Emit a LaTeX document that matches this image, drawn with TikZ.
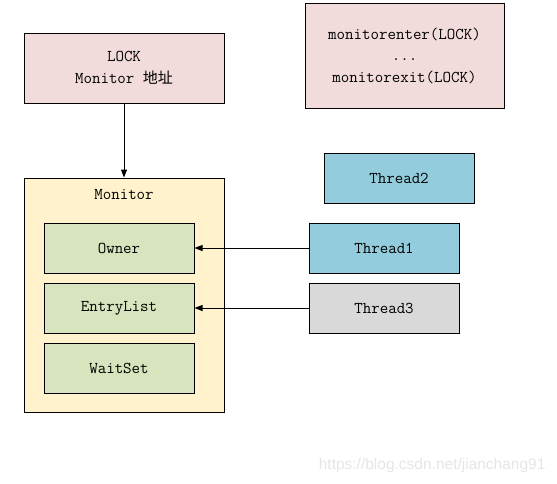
\documentclass[tikz,border=0pt]{standalone}
\usepackage{fontspec}
\setmonofont{Latin Modern Mono}
\newfontfamily\cjk{Noto Sans CJK SC}
\newfontfamily\wmfont{Liberation Sans}
\usetikzlibrary{arrows.meta}
\definecolor{pinkbox}{HTML}{F2DCDB}
\definecolor{yellowbox}{HTML}{FFF2CC}
\definecolor{greenbox}{HTML}{D7E4BD}
\definecolor{bluebox}{HTML}{93CDDD}
\definecolor{graybox}{HTML}{D9D9D9}
\tikzset{
  box/.style={draw=black, line width=1pt, minimum width=#1, inner sep=0pt, font=\ttfamily\fontsize{16.5}{21.5}\selectfont, align=center},
  box/.default=150pt,
  conn/.style={draw=black, line width=1pt, -{Triangle[length=8pt,width=6pt]}},
}
\begin{document}
\begin{tikzpicture}[x=1pt,y=-1pt]
\useasboundingbox (0,0) rectangle (557,483);
\node[box=200pt, minimum height=70pt, fill=pinkbox] (lock) at (124,68) {LOCK\\Monitor {\cjk\fontsize{15}{21.5}\selectfont 地址}};
\node[box=199pt, minimum height=105pt, fill=pinkbox] (code) at (404.5,55.5) {monitorenter(LOCK)\\...\\monitorexit(LOCK)};
\node[box=200pt, minimum height=234pt, fill=yellowbox] (monitor) at (124,295) {};
\node[font=\ttfamily\fontsize{16.5}{21.5}\selectfont] (mlabel) at (124,195) {Monitor};
\node[box, minimum height=50pt, fill=greenbox] (owner) at (119,248) {Owner};
\node[box, minimum height=50pt, fill=greenbox] (entry) at (119,308) {EntryList};
\node[box, minimum height=50pt, fill=greenbox] (wait) at (119,368) {WaitSet};
\node[box, minimum height=50pt, fill=bluebox] (t2) at (399,178) {Thread2};
\node[box, minimum height=50pt, fill=bluebox] (t1) at (384,248) {Thread1};
\node[box, minimum height=50pt, fill=graybox] (t3) at (384,308) {Thread3};
\draw[conn] (lock) -- (monitor);
\draw[conn] (t1) -- (owner);
\draw[conn] (t3) -- (entry);
\node[anchor=east, text=black!10, font=\wmfont\fontsize{15.5}{18}\selectfont] (wm) at (549,465) {https://blog.csdn.net/jianchang91};
\end{tikzpicture}
\end{document}
